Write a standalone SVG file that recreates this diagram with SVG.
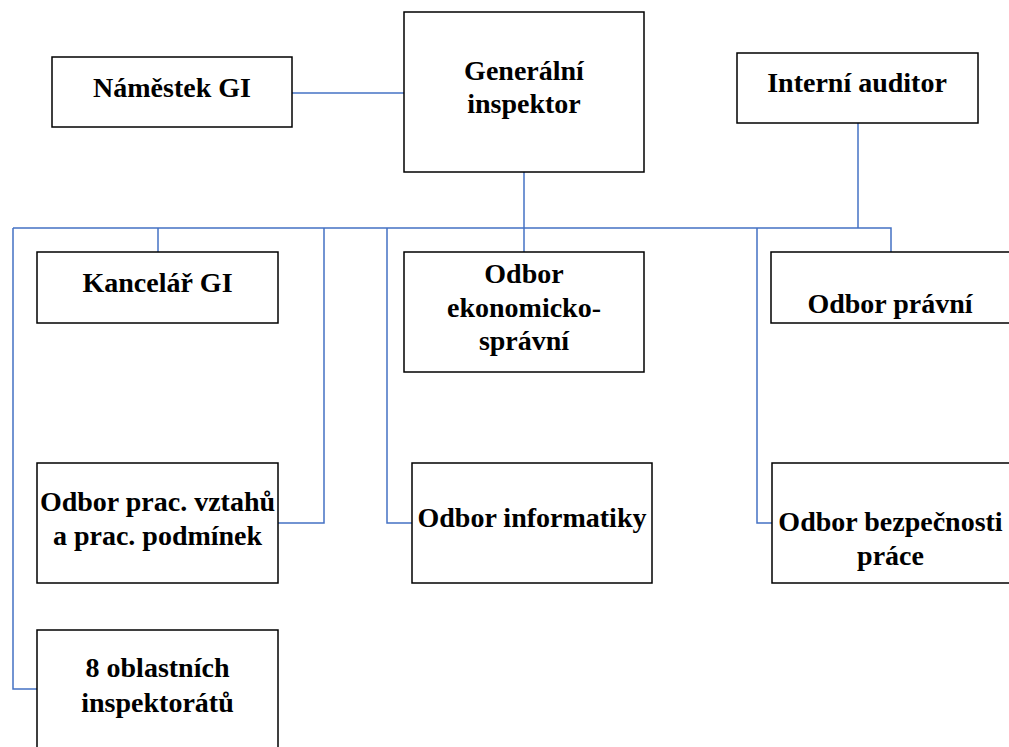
<svg xmlns="http://www.w3.org/2000/svg" width="1009" height="747" viewBox="0 0 1009 747">
<style>
.box{fill:#fff;stroke:#000;stroke-width:1.5}
.t{font-family:"Liberation Serif","Times New Roman",serif;font-weight:bold;font-size:28px;fill:#000;text-anchor:middle}
.c{fill:none;stroke:#4472C4;stroke-width:1.5}
</style>
<rect width="1009" height="747" fill="#fff"/>
<g id="connectors">
<path class="c" d="M292 93H404"/>
<path class="c" d="M524 172V252"/>
<path class="c" d="M858 123V228"/>
<path class="c" d="M13 228H891V252"/>
<path class="c" d="M158 228V252"/>
<path class="c" d="M13 228V689H37"/>
<path class="c" d="M324 228V523H278"/>
<path class="c" d="M387 228V523H412"/>
<path class="c" d="M757 228V523H772"/>
</g>
<g id="namestek"><rect class="box" x="52" y="57" width="240" height="70"/><text class="t" x="172" y="97">Náměstek GI</text></g>
<g id="generalni"><rect class="box" x="404" y="12" width="240" height="160"/><text class="t" x="524" y="80">Generální</text><text class="t" x="524" y="113">inspektor</text></g>
<g id="auditor"><rect class="box" x="737" y="53" width="241" height="70"/><text class="t" x="857" y="92">Interní auditor</text></g>
<g id="kancelar"><rect class="box" x="37" y="252" width="241" height="71"/><text class="t" x="157.5" y="292">Kancelář GI</text></g>
<g id="ekonomicko"><rect class="box" x="404" y="252" width="240" height="120"/><text class="t" x="524" y="283">Odbor</text><text class="t" x="524" y="317">ekonomicko-</text><text class="t" x="524" y="350">správní</text></g>
<g id="pravni"><rect class="box" x="771" y="252" width="260" height="71"/><text class="t" x="890" y="313">Odbor právní</text></g>
<g id="pracovni"><rect class="box" x="37" y="463" width="241" height="120"/><text class="t" x="157.5" y="511">Odbor prac. vztahů</text><text class="t" x="157.5" y="545">a prac. podmínek</text></g>
<g id="informatiky"><rect class="box" x="412" y="463" width="240" height="120"/><text class="t" x="532" y="527">Odbor informatiky</text></g>
<g id="bezpecnosti"><rect class="box" x="772" y="463" width="260" height="120"/><text class="t" x="890.5" y="531">Odbor bezpečnosti</text><text class="t" x="890.5" y="565">práce</text></g>
<g id="oblastni"><rect class="box" x="37" y="630" width="241" height="140"/><text class="t" x="157.5" y="677">8 oblastních</text><text class="t" x="157.5" y="712">inspektorátů</text></g>
</svg>
